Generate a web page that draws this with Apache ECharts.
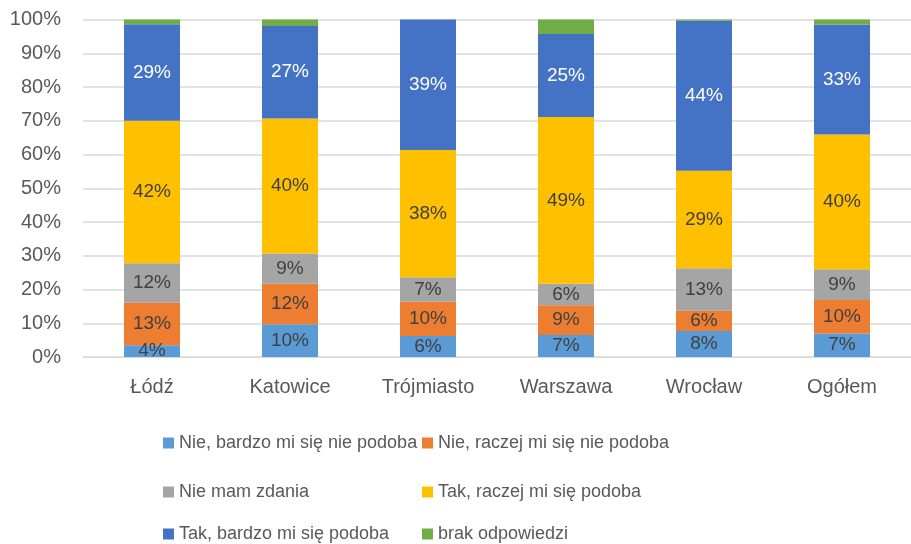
<!DOCTYPE html>
<head>
    <meta charset="utf-8">
    <title>ECharts</title>
</head>
<body style="margin:0">
    <div id="main" style="width:911px;height:544px"></div>
    <script src="https://cdn.jsdelivr.net/npm/echarts@6/dist/echarts.min.js"></script>
    <script type="text/javascript">
        // kategorie (miasta)
        var categories = ['Łódź', 'Katowice', 'Trójmiasto', 'Warszawa', 'Wrocław', 'Ogółem'];
        var yTicks = [0, 10, 20, 30, 40, 50, 60, 70, 80, 90, 100];

        // odpowiedzi w %
        var nieBardzo   = [3.5, 9.7, 6.2, 6.5, 7.7, 7.0];
        var nieRaczej   = [12.6, 12.0, 10.2, 8.8, 6.0, 9.9];
        var nieMam      = [11.7, 9.0, 7.2, 6.4, 12.6, 9.1];
        var takRaczej   = [42.2, 40.0, 37.7, 49.4, 28.9, 39.9];
        var takBardzo   = [28.6, 27.4, 38.7, 24.6, 44.4, 32.6];
        var brak        = [1.4, 1.9, 0.0, 4.3, 0.4, 1.5];

        var names = ['Nie, bardzo mi się nie podoba', 'Nie, raczej mi się nie podoba', 'Nie mam zdania',
                     'Tak, raczej mi się podoba', 'Tak, bardzo mi się podoba', 'brak odpowiedzi'];
        var colors = ['#5B9BD5', '#ED7D31', '#A5A5A5', '#FFC000', '#4472C4', '#70AD47'];
        var values = [nieBardzo, nieRaczej, nieMam, takRaczej, takBardzo, brak];

        var FONT = 'Liberation Sans';
        var myChart = echarts.init(document.getElementById('main'));

        var series = values.map(function (v, i) {
            return {
                name: names[i],
                type: 'bar',
                stack: 'all',
                barWidth: 56,
                data: v,
                itemStyle: { color: colors[i] },
                label: {
                    show: i < 5,
                    position: 'inside',
                    fontFamily: FONT,
                    fontSize: 19,
                    color: i === 4 ? '#ffffff' : '#404040',
                    formatter: function (p) { return Math.round(p.value) + '%'; }
                }
            };
        });

        // legenda: 3 wiersze x 2 kolumny, każda pozycja osobno
        var legendPos = [[158, 429], [417, 429], [158, 478], [417, 478], [158, 520], [417, 520]];
        var legends = names.map(function (n, i) {
            return {
                data: [n],
                left: legendPos[i][0],
                top: legendPos[i][1],
                itemWidth: 11,
                itemHeight: 11,
                icon: 'rect',
                itemGap: 4,
                textStyle: { fontFamily: FONT, fontSize: 18, color: '#595959' },
                selectedMode: false
            };
        });

        var option = {
            animation: false,
            grid: { left: 83, top: 19.5, width: 838, height: 337.5 },
            legend: legends,
            xAxis: {
                type: 'category',
                data: categories,
                axisLine: { lineStyle: { color: '#D9D9D9' } },
                axisTick: { show: false },
                axisLabel: { fontFamily: FONT, fontSize: 20, color: '#595959', margin: 20 }
            },
            yAxis: {
                type: 'value',
                min: yTicks[0],
                max: yTicks[yTicks.length - 1],
                interval: 10,
                axisLine: { show: false },
                axisTick: { show: false },
                splitLine: { lineStyle: { color: '#D9D9D9', width: 1.5 } },
                axisLabel: { fontFamily: FONT, fontSize: 20, color: '#595959', margin: 22,
                             formatter: '{value}%' }
            },
            series: series
        };

        myChart.setOption(option);
    </script>
</body>
